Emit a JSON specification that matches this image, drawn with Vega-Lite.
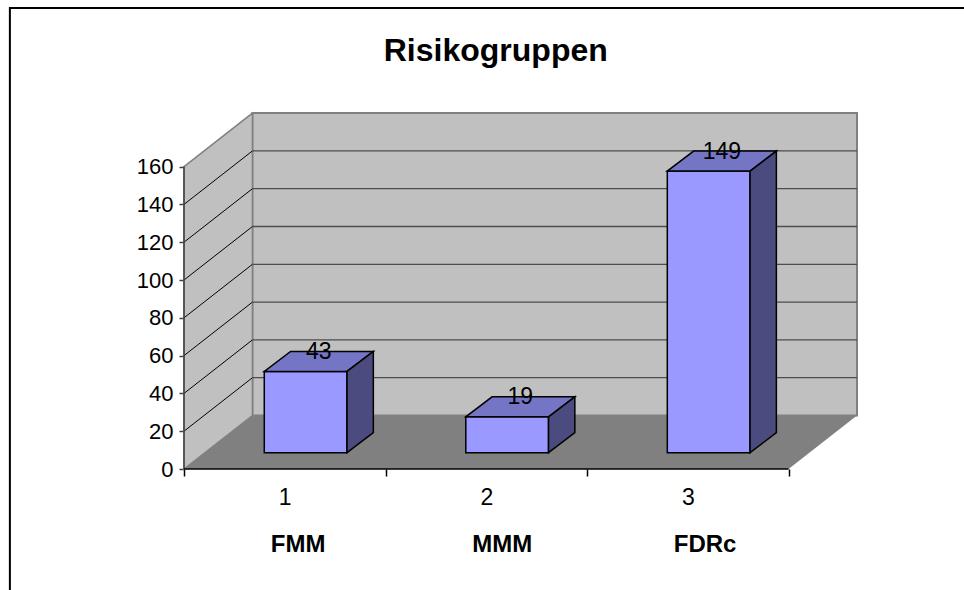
{
  "$schema": "https://vega.github.io/schema/vega-lite/v6.json",
  "autosize": {"type": "none"},
  "padding": {"left": 184, "top": 113, "right": 107, "bottom": 121},
  "width": 673,
  "height": 356,
  "background": "#ffffff",
  "config": {
    "view": {"stroke": null},
    "font": "Liberation Sans",
    "text": {"font": "Liberation Sans"},
    "axisX": {
      "domain": false, "grid": false, "tickColor": "#000000", "tickWidth": 1.5, "tickSize": 7,
      "labelPadding": 10, "labelFont": "Liberation Sans", "labelFontSize": 23, "labelColor": "#000000",
      "labelOverlap": false, "labelFlush": false, "labelBound": false
    },
    "axisY": {
      "domain": false, "grid": false, "tickColor": "#404040", "tickWidth": 1.5, "tickSize": 5,
      "labelPadding": 6, "labelFont": "Liberation Sans", "labelFontSize": 22, "labelColor": "#000000",
      "labelOverlap": false, "labelFlush": false, "labelBound": false
    }
  },
  "params": [
    {"name": "tiefeX", "value": 0.3396},
    {"name": "tiefeY", "value": 28.3},
    {"name": "vornX", "value": 0.1036},
    {"name": "vornY", "value": 8.63},
    {"name": "saeuleX", "value": 0.1306},
    {"name": "saeuleY", "value": 10.58},
    {"name": "halb", "value": 0.2053}
  ],
  "datasets": {
    "gruppen": [
      {"nr": 1, "gruppe": "FMM", "anzahl": 43},
      {"nr": 2, "gruppe": "MMM", "anzahl": 19},
      {"nr": 3, "gruppe": "FDRc", "anzahl": 149}
    ],
    "skala": [
      {"wert": 0}, {"wert": 20}, {"wert": 40}, {"wert": 60}, {"wert": 80},
      {"wert": 100}, {"wert": 120}, {"wert": 140}, {"wert": 160}
    ],
    "eins": [{"titel": "Risikogruppen"}]
  },
  "layer": [
    {
      "description": "back wall",
      "data": {"name": "eins"},
      "transform": [
        {"calculate": "tiefeX", "as": "x1"},
        {"calculate": "3 + tiefeX", "as": "x2"},
        {"calculate": "tiefeY", "as": "y1"},
        {"calculate": "160 + tiefeY", "as": "y2"}
      ],
      "mark": {"type": "rect", "fill": "#C0C0C0", "stroke": "#808080", "strokeWidth": 2},
      "encoding": {
        "x": {"field": "x1", "type": "quantitative", "scale": {"domain": [0, 3.3396], "nice": false, "zero": false},
          "axis": {"title": null, "values": [0, 0.5, 1, 1.5, 2, 2.5, 3], "labelExpr": "datum.value % 1 == 0.5 ? format(datum.value + 0.5, 'd') : ''", "tickOpacity": {"condition": {"test": "datum.value % 1 == 0", "value": 1}, "value": 0}}},
        "x2": {"field": "x2"},
        "y": {"field": "y1", "type": "quantitative", "scale": {"domain": [0, 188.36], "nice": false, "zero": false},
          "axis": {"title": null, "values": [0, 20, 40, 60, 80, 100, 120, 140, 160]}},
        "y2": {"field": "y2"}
      }
    },
    {
      "description": "left side wall",
      "data": {"name": "eins"},
      "transform": [
        {"calculate": "[0, tiefeX]", "as": "px"},
        {"calculate": "[0, tiefeY]", "as": "py"},
        {"calculate": "[160, 160 + tiefeY]", "as": "py2"},
        {"flatten": ["px", "py", "py2"]}
      ],
      "mark": {"type": "area", "fill": "#C0C0C0", "stroke": "#808080", "strokeWidth": 1.5},
      "encoding": {
        "x": {"field": "px", "type": "quantitative", "scale": {"domain": [0, 3.3396], "nice": false, "zero": false},
          "axis": {"title": null, "values": [0, 0.5, 1, 1.5, 2, 2.5, 3], "labelExpr": "datum.value % 1 == 0.5 ? format(datum.value + 0.5, 'd') : ''", "tickOpacity": {"condition": {"test": "datum.value % 1 == 0", "value": 1}, "value": 0}}},
        "y": {"field": "py", "type": "quantitative", "stack": null, "scale": {"domain": [0, 188.36], "nice": false, "zero": false},
          "axis": {"title": null, "values": [0, 20, 40, 60, 80, 100, 120, 140, 160]}},
        "y2": {"field": "py2"}
      }
    },
    {
      "description": "gridlines on the side wall",
      "data": {"name": "skala"},
      "transform": [
        {"filter": "datum.wert > 0 && datum.wert < 160"},
        {"calculate": "0", "as": "gx1"},
        {"calculate": "tiefeX", "as": "gx2"},
        {"calculate": "datum.wert + tiefeY", "as": "gy2"}
      ],
      "mark": {"type": "rule", "color": "#000000", "strokeWidth": 1},
      "encoding": {
        "x": {"field": "gx1", "type": "quantitative", "scale": {"domain": [0, 3.3396], "nice": false, "zero": false},
          "axis": {"title": null, "values": [0, 0.5, 1, 1.5, 2, 2.5, 3], "labelExpr": "datum.value % 1 == 0.5 ? format(datum.value + 0.5, 'd') : ''", "tickOpacity": {"condition": {"test": "datum.value % 1 == 0", "value": 1}, "value": 0}}},
        "x2": {"field": "gx2"},
        "y": {"field": "wert", "type": "quantitative", "scale": {"domain": [0, 188.36], "nice": false, "zero": false},
          "axis": {"title": null, "values": [0, 20, 40, 60, 80, 100, 120, 140, 160]}},
        "y2": {"field": "gy2"}
      }
    },
    {
      "description": "gridlines on the back wall",
      "data": {"name": "skala"},
      "transform": [
        {"filter": "datum.wert > 0 && datum.wert < 160"},
        {"calculate": "tiefeX", "as": "gx1"},
        {"calculate": "3 + tiefeX", "as": "gx2"},
        {"calculate": "datum.wert + tiefeY", "as": "gy"}
      ],
      "mark": {"type": "rule", "color": "#4d4d4d", "strokeWidth": 1.3},
      "encoding": {
        "x": {"field": "gx1", "type": "quantitative", "scale": {"domain": [0, 3.3396], "nice": false, "zero": false},
          "axis": {"title": null, "values": [0, 0.5, 1, 1.5, 2, 2.5, 3], "labelExpr": "datum.value % 1 == 0.5 ? format(datum.value + 0.5, 'd') : ''", "tickOpacity": {"condition": {"test": "datum.value % 1 == 0", "value": 1}, "value": 0}}},
        "x2": {"field": "gx2"},
        "y": {"field": "gy", "type": "quantitative", "scale": {"domain": [0, 188.36], "nice": false, "zero": false},
          "axis": {"title": null, "values": [0, 20, 40, 60, 80, 100, 120, 140, 160]}}
      }
    },
    {
      "description": "floor",
      "data": {"name": "eins"},
      "transform": [
        {"calculate": "[0, tiefeX, 3, 3 + tiefeX]", "as": "px"},
        {"calculate": "[0, 0, 0, tiefeY]", "as": "py"},
        {"calculate": "[0, tiefeY, tiefeY, tiefeY]", "as": "py2"},
        {"flatten": ["px", "py", "py2"]}
      ],
      "mark": {"type": "area", "fill": "#808080"},
      "encoding": {
        "x": {"field": "px", "type": "quantitative", "scale": {"domain": [0, 3.3396], "nice": false, "zero": false},
          "axis": {"title": null, "values": [0, 0.5, 1, 1.5, 2, 2.5, 3], "labelExpr": "datum.value % 1 == 0.5 ? format(datum.value + 0.5, 'd') : ''", "tickOpacity": {"condition": {"test": "datum.value % 1 == 0", "value": 1}, "value": 0}}},
        "y": {"field": "py", "type": "quantitative", "stack": null, "scale": {"domain": [0, 188.36], "nice": false, "zero": false},
          "axis": {"title": null, "values": [0, 20, 40, 60, 80, 100, 120, 140, 160]}},
        "y2": {"field": "py2"}
      }
    },
    {
      "description": "value axis line",
      "data": {"name": "eins"},
      "transform": [
        {"calculate": "0", "as": "ax"},
        {"calculate": "0", "as": "ay1"},
        {"calculate": "160", "as": "ay2"}
      ],
      "mark": {"type": "rule", "color": "#404040", "strokeWidth": 1.5},
      "encoding": {
        "x": {"field": "ax", "type": "quantitative", "scale": {"domain": [0, 3.3396], "nice": false, "zero": false},
          "axis": {"title": null, "values": [0, 0.5, 1, 1.5, 2, 2.5, 3], "labelExpr": "datum.value % 1 == 0.5 ? format(datum.value + 0.5, 'd') : ''", "tickOpacity": {"condition": {"test": "datum.value % 1 == 0", "value": 1}, "value": 0}}},
        "y": {"field": "ay1", "type": "quantitative", "scale": {"domain": [0, 188.36], "nice": false, "zero": false},
          "axis": {"title": null, "values": [0, 20, 40, 60, 80, 100, 120, 140, 160]}},
        "y2": {"field": "ay2"}
      }
    },
    {
      "description": "category axis line",
      "data": {"name": "eins"},
      "transform": [
        {"calculate": "0", "as": "ax1"},
        {"calculate": "3", "as": "ax2"},
        {"calculate": "0", "as": "ay"}
      ],
      "mark": {"type": "rule", "color": "#000000", "strokeWidth": 1.5},
      "encoding": {
        "x": {"field": "ax1", "type": "quantitative", "scale": {"domain": [0, 3.3396], "nice": false, "zero": false},
          "axis": {"title": null, "values": [0, 0.5, 1, 1.5, 2, 2.5, 3], "labelExpr": "datum.value % 1 == 0.5 ? format(datum.value + 0.5, 'd') : ''", "tickOpacity": {"condition": {"test": "datum.value % 1 == 0", "value": 1}, "value": 0}}},
        "x2": {"field": "ax2"},
        "y": {"field": "ay", "type": "quantitative", "scale": {"domain": [0, 188.36], "nice": false, "zero": false},
          "axis": {"title": null, "values": [0, 20, 40, 60, 80, 100, 120, 140, 160]}}
      }
    },
    {
      "description": "bar front faces",
      "data": {"name": "gruppen"},
      "transform": [
        {"calculate": "datum.nr - 0.5 + vornX - halb", "as": "links"},
        {"calculate": "datum.nr - 0.5 + vornX + halb", "as": "rechts"},
        {"calculate": "vornY", "as": "unten"},
        {"calculate": "vornY + datum.anzahl", "as": "oben"}
      ],
      "mark": {"type": "rect", "fill": "#9999FF", "stroke": "#000000", "strokeWidth": 1.5},
      "encoding": {
        "x": {"field": "links", "type": "quantitative", "scale": {"domain": [0, 3.3396], "nice": false, "zero": false},
          "axis": {"title": null, "values": [0, 0.5, 1, 1.5, 2, 2.5, 3], "labelExpr": "datum.value % 1 == 0.5 ? format(datum.value + 0.5, 'd') : ''", "tickOpacity": {"condition": {"test": "datum.value % 1 == 0", "value": 1}, "value": 0}}},
        "x2": {"field": "rechts"},
        "y": {"field": "unten", "type": "quantitative", "scale": {"domain": [0, 188.36], "nice": false, "zero": false},
          "axis": {"title": null, "values": [0, 20, 40, 60, 80, 100, 120, 140, 160]}},
        "y2": {"field": "oben"}
      }
    },
    {
      "description": "bar top faces",
      "data": {"name": "gruppen"},
      "transform": [
        {"calculate": "datum.nr - 0.5 + vornX - halb", "as": "L"},
        {"calculate": "datum.nr - 0.5 + vornX + halb", "as": "R"},
        {"calculate": "datum.anzahl + vornY", "as": "yv"},
        {"calculate": "datum.anzahl + vornY + saeuleY", "as": "yh"},
        {"calculate": "[datum.L, datum.L + saeuleX, datum.R, datum.R + saeuleX]", "as": "px"},
        {"calculate": "[datum.yv, datum.yv, datum.yv, datum.yh]", "as": "py"},
        {"calculate": "[datum.yv, datum.yh, datum.yh, datum.yh]", "as": "py2"},
        {"flatten": ["px", "py", "py2"]}
      ],
      "mark": {"type": "area", "fill": "#7575C6", "stroke": "#000000", "strokeWidth": 1.5, "strokeJoin": "miter"},
      "encoding": {
        "x": {"field": "px", "type": "quantitative", "scale": {"domain": [0, 3.3396], "nice": false, "zero": false},
          "axis": {"title": null, "values": [0, 0.5, 1, 1.5, 2, 2.5, 3], "labelExpr": "datum.value % 1 == 0.5 ? format(datum.value + 0.5, 'd') : ''", "tickOpacity": {"condition": {"test": "datum.value % 1 == 0", "value": 1}, "value": 0}}},
        "y": {"field": "py", "type": "quantitative", "stack": null, "scale": {"domain": [0, 188.36], "nice": false, "zero": false},
          "axis": {"title": null, "values": [0, 20, 40, 60, 80, 100, 120, 140, 160]}},
        "y2": {"field": "py2"},
        "detail": {"field": "gruppe", "type": "nominal"}
      }
    },
    {
      "description": "bar side faces",
      "data": {"name": "gruppen"},
      "transform": [
        {"calculate": "datum.nr - 0.5 + vornX + halb", "as": "R"},
        {"calculate": "[datum.R, datum.R + saeuleX]", "as": "px"},
        {"calculate": "[vornY, vornY + saeuleY]", "as": "py"},
        {"calculate": "[vornY + datum.anzahl, vornY + saeuleY + datum.anzahl]", "as": "py2"},
        {"flatten": ["px", "py", "py2"]}
      ],
      "mark": {"type": "area", "fill": "#4B4B80", "stroke": "#000000", "strokeWidth": 1.5, "strokeJoin": "miter"},
      "encoding": {
        "x": {"field": "px", "type": "quantitative", "scale": {"domain": [0, 3.3396], "nice": false, "zero": false},
          "axis": {"title": null, "values": [0, 0.5, 1, 1.5, 2, 2.5, 3], "labelExpr": "datum.value % 1 == 0.5 ? format(datum.value + 0.5, 'd') : ''", "tickOpacity": {"condition": {"test": "datum.value % 1 == 0", "value": 1}, "value": 0}}},
        "y": {"field": "py", "type": "quantitative", "stack": null, "scale": {"domain": [0, 188.36], "nice": false, "zero": false},
          "axis": {"title": null, "values": [0, 20, 40, 60, 80, 100, 120, 140, 160]}},
        "y2": {"field": "py2"},
        "detail": {"field": "gruppe", "type": "nominal"}
      }
    },
    {
      "description": "value labels on the bar tops",
      "data": {"name": "gruppen"},
      "transform": [
        {"calculate": "datum.nr - 0.5 + vornX + saeuleX / 2", "as": "lx"},
        {"calculate": "datum.anzahl + vornY + saeuleY / 2", "as": "ly"}
      ],
      "mark": {"type": "text", "font": "Liberation Sans", "fontSize": 23, "color": "#000000", "align": "center", "baseline": "alphabetic", "dy": -2.5},
      "encoding": {
        "x": {"field": "lx", "type": "quantitative", "scale": {"domain": [0, 3.3396], "nice": false, "zero": false},
          "axis": {"title": null, "values": [0, 0.5, 1, 1.5, 2, 2.5, 3], "labelExpr": "datum.value % 1 == 0.5 ? format(datum.value + 0.5, 'd') : ''", "tickOpacity": {"condition": {"test": "datum.value % 1 == 0", "value": 1}, "value": 0}}},
        "y": {"field": "ly", "type": "quantitative", "scale": {"domain": [0, 188.36], "nice": false, "zero": false},
          "axis": {"title": null, "values": [0, 20, 40, 60, 80, 100, 120, 140, 160]}},
        "text": {"field": "anzahl", "type": "quantitative", "format": "d"}
      }
    },
    {
      "description": "group names under the category axis",
      "data": {"name": "gruppen"},
      "transform": [
        {"calculate": "datum.nr - 0.5695", "as": "nx"},
        {"calculate": "-43.76", "as": "ny"}
      ],
      "mark": {"type": "text", "font": "Liberation Sans", "fontSize": 24, "fontWeight": "bold", "color": "#000000", "align": "left", "baseline": "alphabetic"},
      "encoding": {
        "x": {"field": "nx", "type": "quantitative", "scale": {"domain": [0, 3.3396], "nice": false, "zero": false},
          "axis": {"title": null, "values": [0, 0.5, 1, 1.5, 2, 2.5, 3], "labelExpr": "datum.value % 1 == 0.5 ? format(datum.value + 0.5, 'd') : ''", "tickOpacity": {"condition": {"test": "datum.value % 1 == 0", "value": 1}, "value": 0}}},
        "y": {"field": "ny", "type": "quantitative", "scale": {"domain": [0, 188.36], "nice": false, "zero": false},
          "axis": {"title": null, "values": [0, 20, 40, 60, 80, 100, 120, 140, 160]}},
        "text": {"field": "gruppe", "type": "nominal"}
      }
    },
    {
      "description": "chart title",
      "data": {"name": "eins"},
      "transform": [
        {"calculate": "1.547", "as": "tx"},
        {"calculate": "216.0", "as": "ty"}
      ],
      "mark": {"type": "text", "font": "Liberation Sans", "fontSize": 32, "fontWeight": "bold", "color": "#000000", "align": "center", "baseline": "alphabetic"},
      "encoding": {
        "x": {"field": "tx", "type": "quantitative", "scale": {"domain": [0, 3.3396], "nice": false, "zero": false},
          "axis": {"title": null, "values": [0, 0.5, 1, 1.5, 2, 2.5, 3], "labelExpr": "datum.value % 1 == 0.5 ? format(datum.value + 0.5, 'd') : ''", "tickOpacity": {"condition": {"test": "datum.value % 1 == 0", "value": 1}, "value": 0}}},
        "y": {"field": "ty", "type": "quantitative", "scale": {"domain": [0, 188.36], "nice": false, "zero": false},
          "axis": {"title": null, "values": [0, 20, 40, 60, 80, 100, 120, 140, 160]}},
        "text": {"field": "titel", "type": "nominal"}
      }
    },
    {
      "description": "chart area border",
      "data": {"name": "eins"},
      "transform": [
        {"calculate": "-0.864", "as": "rx1"},
        {"calculate": "3.95", "as": "rx2"},
        {"calculate": "243.9", "as": "ry1"},
        {"calculate": "-70", "as": "ry2"}
      ],
      "mark": {"type": "rect", "filled": false, "stroke": "#000000", "strokeWidth": 2},
      "encoding": {
        "x": {"field": "rx1", "type": "quantitative", "scale": {"domain": [0, 3.3396], "nice": false, "zero": false},
          "axis": {"title": null, "values": [0, 0.5, 1, 1.5, 2, 2.5, 3], "labelExpr": "datum.value % 1 == 0.5 ? format(datum.value + 0.5, 'd') : ''", "tickOpacity": {"condition": {"test": "datum.value % 1 == 0", "value": 1}, "value": 0}}},
        "x2": {"field": "rx2"},
        "y": {"field": "ry1", "type": "quantitative", "scale": {"domain": [0, 188.36], "nice": false, "zero": false},
          "axis": {"title": null, "values": [0, 20, 40, 60, 80, 100, 120, 140, 160]}},
        "y2": {"field": "ry2"}
      }
    }
  ]
}
